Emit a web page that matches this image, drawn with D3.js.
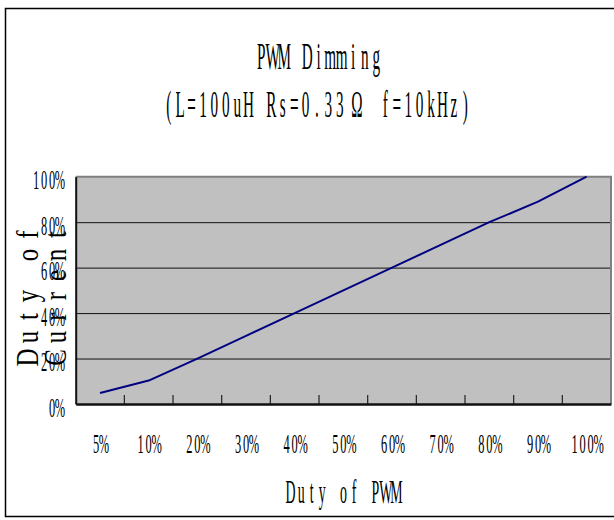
<!DOCTYPE html>
<html>
<head>
<meta charset="utf-8">
<script src="https://cdn.jsdelivr.net/npm/d3@7"></script>
<style>
html,body{margin:0;padding:0;background:#fff;}
svg{display:block;}
text{white-space:pre;}
</style>
</head>
<body>
<svg id="chart" width="614" height="520"></svg>
<script>
// ---- data ----
const categories = ["5%","10%","20%","30%","40%","50%","60%","70%","80%","90%","100%"];
const currentDuty = [4.8, 10.3, 20, 30, 40, 50, 60, 70, 80, 89, 100];
const yTickValues = [0, 20, 40, 60, 80, 100];
const yTickLabels = ["0%","20%","40%","60%","80%","100%"];
const titleText = "PWM Dimming";
const subtitleText = "(L=100uH Rs=0.33Ω f=10kHz)";
const xTitleText = "Duty of PWM";
const yTitleLines = ["Duty of", "Current"];

// ---- layout ----
const svg = d3.select("#chart");
const FONT = "'Liberation Serif', 'Times New Roman', serif";
const pLeft = 75.7, pRight = 611, pTop = 176.7, pBottom = 404;

const x = d3.scaleBand().domain(categories).range([pLeft, pRight]).padding(0);
const y = d3.scaleLinear().domain([0, 100]).range([pBottom, pTop]);

// monospaced, horizontally condensed text helper (full-width chars take 2 cells)
function mono(textSel, str, adv, sx, anchor) {
  const chars = Array.from(str);
  const cells = chars.map(c => (c === "Ω" || c.charCodeAt(0) > 0x2E80) ? 2 : 1);
  const total = d3.sum(cells) * adv;
  let start = anchor === "end" ? -total : -total / 2;
  const pos = [];
  let acc = start;
  chars.forEach((c, i) => {
    const w = cells[i] * adv;
    pos.push(((acc + w / 2) / sx).toFixed(2));
    acc += w;
  });
  textSel.text(str)
    .attr("x", pos.join(" "))
    .attr("text-anchor", "middle")
    .attr("font-family", FONT)
    .attr("fill", "#000");
  const prev = textSel.attr("transform") || "";
  textSel.attr("transform", prev + ` scale(${sx},1)`);
}

// outer chart border
svg.append("rect")
  .attr("x", 5.5).attr("y", 8.5).attr("width", 700).attr("height", 508)
  .attr("fill", "#fff").attr("stroke", "#000").attr("stroke-width", 1.5);

// titles
const tG = svg.append("g").attr("transform", "translate(318.7,69)");
mono(tG.append("text").attr("font-size", 38), titleText, 11.5, 0.4, "middle");
const sG = svg.append("g").attr("transform", "translate(317,117)");
mono(sG.append("text").attr("font-size", 38), subtitleText, 11.4, 0.4, "middle");

// plot area
svg.append("rect")
  .attr("x", pLeft).attr("y", pTop).attr("width", pRight - pLeft).attr("height", pBottom - pTop)
  .attr("fill", "#c0c0c0");

// gridlines
svg.append("g")
  .attr("transform", `translate(${pLeft},0)`)
  .call(d3.axisLeft(y).tickValues([20, 40, 60, 80]).tickSize(-(pRight - pLeft)).tickFormat(""))
  .call(g => g.select(".domain").remove())
  .call(g => g.selectAll("line").attr("stroke", "#111").attr("stroke-width", 1));

// plot frame top/right (gray)
svg.append("path")
  .attr("d", `M${pLeft},${pTop}H${pRight}V${pBottom}`)
  .attr("fill", "none").attr("stroke", "#808080").attr("stroke-width", 2);

// x tick marks (between categories, inward)
svg.append("g")
  .selectAll("line")
  .data(categories.slice(1))
  .join("line")
  .attr("x1", d => x(d)).attr("x2", d => x(d))
  .attr("y1", pBottom).attr("y2", pBottom - 9)
  .attr("stroke", "#222").attr("stroke-width", 1.2);

// data line
svg.append("path")
  .datum(currentDuty)
  .attr("fill", "none")
  .attr("stroke", "#000080")
  .attr("stroke-width", 2)
  .attr("stroke-linejoin", "round")
  .attr("d", d3.line()
    .x((d, i) => x(categories[i]) + x.bandwidth() / 2)
    .y(d => y(d)));

// y axis
const yAxisG = svg.append("g")
  .attr("transform", `translate(${pLeft},0)`)
  .call(d3.axisLeft(y).tickValues(yTickValues).tickSize(0).tickSizeOuter(0)
    .tickFormat((d, i) => yTickLabels[i]));
yAxisG.select(".domain").attr("stroke", "#111").attr("stroke-width", 2);
yAxisG.selectAll(".tick text").each(function(d, i) {
  const t = d3.select(this);
  t.attr("dy", null).attr("y", 12).attr("font-size", 27)
   .attr("transform", "translate(-11.7,0)");
  mono(t, yTickLabels[i], 8, 0.46, "end");
});

// x axis
const xAxisG = svg.append("g")
  .attr("transform", `translate(0,${pBottom})`)
  .call(d3.axisBottom(x).tickSize(0).tickSizeOuter(0));
xAxisG.select(".domain").attr("stroke", "#111").attr("stroke-width", 2.5);
xAxisG.selectAll(".tick text").each(function(d) {
  const t = d3.select(this);
  t.attr("dy", null).attr("y", 49).attr("font-size", 27);
  mono(t, d, 8, 0.46, "middle");
});

// x title
const xtG = svg.append("g").attr("transform", "translate(343.5,503)");
mono(xtG.append("text").attr("font-size", 33), xTitleText, 10.6, 0.42, "middle");

// y title (two rotated lines)
const ytBase = [38, 66];
yTitleLines.forEach((line, i) => {
  const g = svg.append("g").attr("transform", `translate(${ytBase[i]},296) rotate(-90)`);
  mono(g.append("text").attr("font-size", 31), line, 20.5, 0.8, "middle");
});
</script>
</body>
</html>
